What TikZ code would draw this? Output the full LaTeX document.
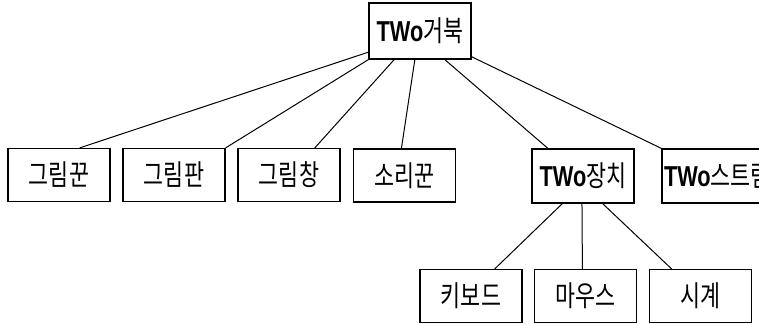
\documentclass[tikz,border=0pt]{standalone}
\usepackage{fontspec}
\usepackage{graphicx}
\setmainfont{Noto Sans CJK KR}
\newfontfamily\latinbold{Liberation Sans}
\usetikzlibrary{calc}
\newcommand{\tall}[1]{\scalebox{1.02}[1.35]{#1}}
\tikzset{
  box/.style={draw=black, line width=0.9pt, minimum width=102*0.75pt, minimum height=53*0.75pt, inner sep=0pt, font=\fontsize{16pt}{18pt}\selectfont},
  link/.style={draw=black, line width=0.75pt}
}
\newcommand{\TWo}{{\latinbold\bfseries TWo}}
\begin{document}
\begin{tikzpicture}[x=0.75pt,y=-0.75pt]
\useasboundingbox (0,0) rectangle (759,324);
\node[box, minimum width=102*0.75pt, minimum height=56*0.75pt] (top) at (420,31) {\tall{\TWo 거북}};
\node[box] (a) at (59,175) {\tall{그림꾼}};
\node[box] (b) at (174,175) {\tall{그림판}};
\node[box] (c) at (289,175) {\tall{그림창}};
\node[box] (d) at (404.5,175.5) {\tall{소리꾼}};
\node[box, minimum height=54*0.75pt] (e) at (583,176) {\tall{\TWo 장치}};
\node[box, minimum height=54*0.75pt, minimum width=104*0.75pt, text width=100*0.75pt, align=left] (f) at (714,176) {\tall{\TWo 스트림}};
\node[box] (g) at (471,296) {\tall{키보드}};
\node[box] (h) at (585.5,296) {\tall{마우스}};
\node[box] (i) at (700.5,296) {\tall{시계}};
% connectors from top
\draw[link] ($(top.north west)!0.87!(top.south west)$) -- ($(a.north west)!0.7!(a.north east)$);
\draw[link] (top.south west) -- (b.north east);
\draw[link] ($(top.south west)!0.25!(top.south east)$) -- ($(c.north west)!0.75!(c.north east)$);
\draw[link] ($(top.south west)!0.45!(top.south east)$) -- ($(d.north west)!0.47!(d.north east)$);
\draw[link] ($(top.south west)!0.74!(top.south east)$) -- ($(e.north west)!0.16!(e.north east)$);
\draw[link] ($(top.north east)!0.95!(top.south east)$) -- (f.north west);
% connectors from e
\draw[link] ($(e.south west)!0.3!(e.south east)$) -- ($(g.north west)!0.73!(g.north east)$);
\draw[link] ($(e.south west)!0.49!(e.south east)$) -- ($(h.north west)!0.47!(h.north east)$);
\draw[link] ($(e.south west)!0.69!(e.south east)$) -- ($(i.north west)!0.22!(i.north east)$);
\end{tikzpicture}
\end{document}
